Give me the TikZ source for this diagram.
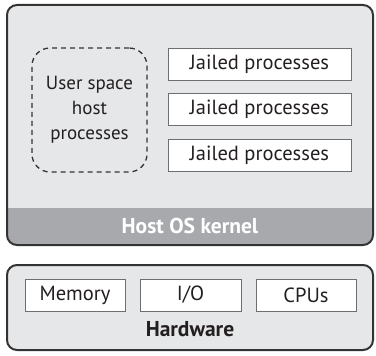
\documentclass[tikz,border=0pt]{standalone}
\usepackage{fontspec}
\setmainfont{PT Sans}
\definecolor{hostfill}{HTML}{E6E7E8}
\definecolor{kernelfill}{HTML}{A7A9AC}
\definecolor{borderc}{HTML}{333333}
\definecolor{innerc}{HTML}{6D6E71}
\definecolor{textc}{HTML}{231F20}
\begin{document}
\begin{tikzpicture}[x=1pt,y=-1pt,
  outerbox/.style={draw=borderc, line width=2pt, fill=hostfill, rounded corners=10pt, inner sep=0pt},
  innerbox/.style={draw=innerc, line width=1pt, fill=white, inner sep=0pt, text=textc, font=\fontsize{20.5}{22}\selectfont},
  dashbox/.style={draw=borderc, line width=1.3pt, dash pattern=on 5pt off 4pt, rounded corners=18pt, inner sep=0pt, text=textc, align=center, font=\fontsize{19}{25}\selectfont},
  lbl/.style={inner sep=0pt, font=\bfseries\fontsize{21.5}{24}\selectfont}]
\useasboundingbox (0,0) rectangle (376,356);
\node[outerbox, minimum width=366pt, minimum height=240pt,
  path picture={\fill[kernelfill, sharp corners] ([yshift=37pt]path picture bounding box.south west) rectangle (path picture bounding box.south east);}]
  (host) at (190,125) {};
\node[lbl, text=white] (kernel) at (190,226) {Host OS kernel};
\node[dashbox, minimum width=115pt, minimum height=124pt] (user) at (89.5,110) {User space\\host\\processes};
\node[innerbox, minimum width=183pt, minimum height=32pt] (j1) at (259.5,64) {Jailed processes};
\node[innerbox, minimum width=183pt, minimum height=32pt] (j2) at (259.5,109.5) {Jailed processes};
\node[innerbox, minimum width=183pt, minimum height=32pt] (j3) at (259.5,155) {Jailed processes};
\node[outerbox, minimum width=366pt, minimum height=85pt] (hw) at (190,307.5) {};
\node[innerbox, minimum width=100pt, minimum height=32pt] (mem) at (75,295) {Memory};
\node[innerbox, minimum width=101pt, minimum height=32pt] (io) at (190.5,295) {I/O};
\node[innerbox, minimum width=100pt, minimum height=32pt] (cpu) at (306,295) {CPUs};
\node[lbl, text=textc] (hwl) at (190,329) {Hardware};
\end{tikzpicture}
\end{document}
